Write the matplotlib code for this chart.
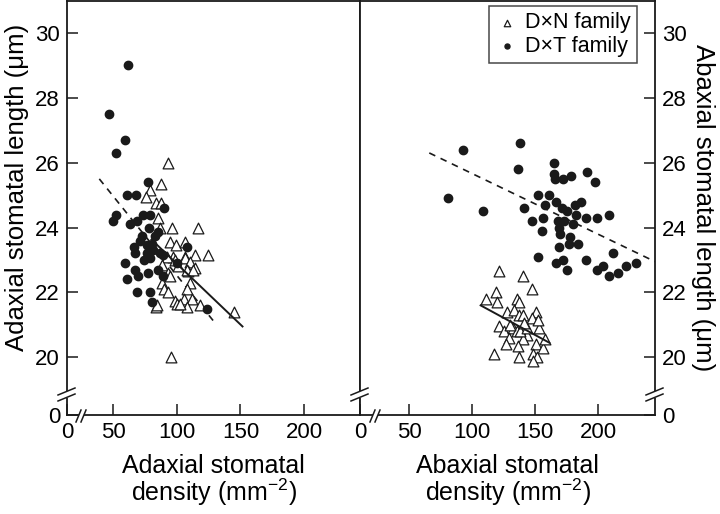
import numpy as np
import matplotlib
matplotlib.use("Agg")
import matplotlib.pyplot as plt
from matplotlib.lines import Line2D
from matplotlib.patches import Rectangle

plt.rcParams['font.family'] = ['Liberation Sans', 'DejaVu Sans']
plt.rcParams['mathtext.fontset'] = 'custom'
plt.rcParams['mathtext.rm'] = 'Liberation Sans'

# adaxial panel, D x N family (triangles)
adax_dn_x = [92.7, 87.2, 78.8, 75.7, 83.5, 87.2, 85.3, 86.7, 96.1, 116.8, 94.5, 99.3, 106.3,
             114.2, 124.2, 97.1, 106.3, 92.4, 98.5, 106.3, 110.3, 88.0, 101.0, 114.2, 93.2,
             108.9, 94.5, 88.0, 110.3, 89.8, 108.1, 93.2, 105.5, 111.6, 98.5, 99.8, 108.1,
             118.1, 83.5, 145.1, 95.1, 107.6, 112.8, 102.4, 84.0]
adax_dn_y = [26.0, 25.35, 25.15, 24.95, 24.75, 24.75, 24.3, 24.0, 24.0, 24.0, 23.55, 23.45, 23.55,
             23.15, 23.15, 23.1, 23.1, 23.1, 23.0, 23.05, 22.95, 22.85, 22.8, 22.75, 22.6,
             22.65, 22.5, 22.3, 22.3, 22.1, 22.1, 22.0, 21.8, 21.8, 21.75, 21.65, 21.55,
             21.6, 21.55, 21.4, 20.0, 22.7, 22.7, 21.65, 21.6]
# adaxial panel, D x T family (dots)
adax_dt_x = [61.3, 46.9, 59.2, 51.9, 77.0, 61.0, 67.8, 89.8, 52.1, 50.0, 73.6, 78.8, 63.1,
             68.4, 78.3, 72.3, 82.8, 85.3, 66.5, 76.2, 80.2, 108.1, 67.0, 76.2, 86.7, 89.3,
             78.8, 100.3, 59.2, 67.0, 69.6, 77.0, 61.0, 85.3, 88.8, 68.4, 78.8, 80.2, 123.8,
             71.0, 81.0, 74.0]
adax_dt_y = [29.0, 27.5, 26.7, 26.3, 25.4, 25.0, 25.0, 24.6, 24.4, 24.2, 24.4, 24.4, 24.1,
             24.2, 24.0, 23.75, 23.75, 23.85, 23.4, 23.45, 23.5, 23.4, 23.2, 23.2, 23.2, 23.15,
             23.05, 22.9, 22.9, 22.7, 22.5, 22.6, 22.4, 22.7, 22.5, 22.0, 22.0, 21.7, 21.5,
             23.6, 23.3, 23.0]
adax_dn_fit_x = [80.0, 151.6]
adax_dn_fit_y = [23.63, 20.95]
adax_dt_fit_x = [39.0, 131.2]
adax_dt_fit_y = [25.5, 21.0]

# abaxial panel, D x N family
abax_dn_x = [121.6, 140.1, 147.2, 118.9, 111.0, 119.5, 135.8, 137.4, 127.4, 133.2, 150.6, 137.4,
             147.2, 121.6, 153.3, 125.3, 132.2, 135.3, 143.3, 129.5, 140.1, 126.6, 136.6, 150.6,
             155.9, 157.8, 117.6, 137.4, 148.0, 151.2, 148.5, 140.3, 152.5, 137.9, 143.3, 141.0,
             130.0]
abax_dn_y = [22.65, 22.5, 22.1, 22.0, 21.8, 21.7, 21.8, 21.7, 21.4, 21.45, 21.4, 21.3,
             21.2, 20.95, 20.9, 20.8, 20.9, 20.8, 20.7, 20.6, 20.55, 20.4, 20.35, 20.4,
             20.3, 20.55, 20.1, 20.0, 20.1, 20.0, 19.9, 21.3, 21.15, 20.8, 20.9, 21.05,
             21.0]
# abaxial panel, D x T family
abax_dt_x = [81.1, 93.0, 108.4, 138.0, 136.1, 164.9, 164.9, 165.7, 172.3, 178.4, 191.3, 197.6,
             152.0, 161.2, 166.5, 171.0, 175.0, 181.5, 186.1, 182.3, 141.4, 157.8, 147.2, 155.9,
             168.3, 172.8, 179.7, 190.3, 198.7, 208.7, 155.1, 169.1, 169.7, 177.6, 177.0, 184.2,
             168.9, 152.5, 166.5, 171.7, 175.0, 190.3, 211.9, 199.2, 203.5, 208.7, 215.9, 222.0,
             229.6]
abax_dt_y = [24.9, 26.4, 24.5, 26.6, 25.8, 26.0, 25.65, 25.5, 25.5, 25.6, 25.7, 25.4,
             25.0, 25.0, 24.8, 24.6, 24.5, 24.7, 24.8, 24.4, 24.6, 24.7, 24.2, 24.3,
             24.2, 24.2, 24.1, 24.3, 24.3, 24.4, 23.9, 24.0, 23.8, 23.7, 23.5, 23.5,
             23.4, 23.1, 22.9, 23.0, 22.7, 23.0, 23.2, 22.7, 22.8, 22.5, 22.6, 22.8,
             22.9]
abax_dn_fit_x = [106.8, 161.2]
abax_dn_fit_y = [21.6, 20.45]
abax_dt_fit_x = [66.1, 245.0]
abax_dt_fit_y = [26.3, 22.95]

y_ticks = [20, 22, 24, 26, 28, 30]
x_ticks = [50, 100, 150, 200]

W, H = 720, 514
fig = plt.figure(figsize=(W / 100, H / 100), dpi=100)
ax1 = fig.add_axes([67 / W, (H - 415) / H, 293 / W, 414.5 / H])
ax2 = fig.add_axes([360 / W, (H - 415) / H, 295 / W, 414.5 / H])

ink = '#1a1a1a'
for ax, xlo, xhi in [(ax1, 13.6, 244.0), (ax2, 11.2, 245.0)]:
    ax.set_xlim(xlo, xhi)
    ax.set_ylim(18.22, 31.0)
    ax.set_xticks([xlo] + x_ticks)
    ax.set_xticklabels(['0'] + [str(t) for t in x_ticks])
    ax.set_yticks([18.22] + y_ticks)
    ax.set_yticklabels(['0'] + [str(t) for t in y_ticks])
    ax.tick_params(direction='in', length=8, width=1.1, color=ink, labelsize=16, pad=5)
    for s in ax.spines.values():
        s.set_linewidth(1.3)
        s.set_color(ink)

ax2.yaxis.tick_right()
ax2.yaxis.set_label_position('right')

def draw(ax, dn_x, dn_y, dt_x, dt_y, dn_fx, dn_fy, dt_fx, dt_fy):
    ax.plot(dt_fx, dt_fy, ls=(0, (4, 3.5)), color=ink, lw=1.2, zorder=1)
    ax.plot(dn_fx, dn_fy, ls='-', color=ink, lw=1.4, zorder=3)
    ax.scatter(dn_x, dn_y, marker='^', s=60, facecolors='white', edgecolors=ink,
               linewidths=0.9, zorder=2, label='D\u00d7N family')
    ax.scatter(dt_x, dt_y, marker='o', s=36, color=ink, zorder=2, label='D\u00d7T family')

draw(ax1, adax_dn_x, adax_dn_y, adax_dt_x, adax_dt_y,
     adax_dn_fit_x, adax_dn_fit_y, adax_dt_fit_x, adax_dt_fit_y)
draw(ax2, abax_dn_x, abax_dn_y, abax_dt_x, abax_dt_y,
     abax_dn_fit_x, abax_dn_fit_y, abax_dt_fit_x, abax_dt_fit_y)

leg = ax2.legend(loc='upper right', bbox_to_anchor=(0.939, 0.987), borderaxespad=0,
                 fontsize=15.5, markerscale=0.6, handletextpad=0.35, handlelength=1.0,
                 borderpad=0.3, labelspacing=0.12, fancybox=False, frameon=True)
leg.get_frame().set_edgecolor(ink)
leg.get_frame().set_linewidth(1.1)

ax1.set_ylabel('Adaxial stomatal length (\u03bcm)', fontsize=18.5)
ax1.yaxis.set_label_coords(-0.128, 0.55)
ax2.set_ylabel('Abaxial stomatal length (\u03bcm)', fontsize=18.5, rotation=270)
ax2.yaxis.set_label_coords(1.205, 0.5)
ax1.set_xlabel('Adaxial stomatal\ndensity (mm$^{\u22122}$)', fontsize=18, linespacing=0.95)
ax2.set_xlabel('Abaxial stomatal\ndensity (mm$^{\u22122}$)', fontsize=18, linespacing=0.95)
ax1.xaxis.labelpad = 8
ax2.xaxis.labelpad = 8

# axis break marks, in figure pixels
def px(x, y):
    return x / W, (H - y) / H

def brk(gap, lines):
    x0, y0, x1, y1 = gap
    a, b = px(x0, y1)
    c, d = px(x1, y0)
    fig.add_artist(Rectangle((a, b), c - a, d - b, transform=fig.transFigure,
                             facecolor='white', edgecolor='none', zorder=5))
    for (xa, ya, xb, yb) in lines:
        p, q = px(xa, ya)
        r, s = px(xb, yb)
        fig.add_artist(Line2D([p, r], [q, s], transform=fig.transFigure, color=ink,
                              lw=1.1, zorder=6))

brk((64, 391, 70, 398), [(58, 395, 75, 388), (58, 401, 75, 394)])
brk((79, 412, 84, 418), [(76, 422, 81, 410), (81, 422, 86, 410)])
brk((357, 391, 363, 398), [(351, 395, 368, 388), (351, 401, 368, 394)])
brk((373, 412, 378, 418), [(370, 422, 375, 410), (375, 422, 380, 410)])
brk((652, 391, 658, 398), [(646, 395, 663, 388), (646, 401, 663, 394)])

fig.savefig('out.png', dpi=100)
